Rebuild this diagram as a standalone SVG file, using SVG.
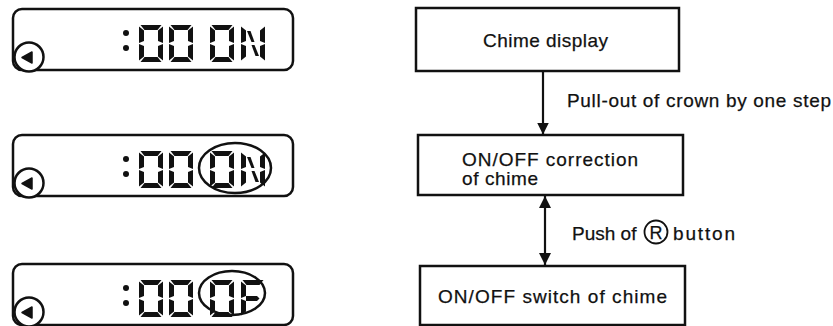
<svg xmlns="http://www.w3.org/2000/svg" width="833" height="326" viewBox="0 0 833 326">
<style>
.bx{fill:#fff;stroke:#111;stroke-width:2.5}
.lcd{fill:none;stroke:#111;stroke-width:2.5}
.seg{fill:#111}
.t{font-family:"Liberation Sans",Arial,sans-serif;font-size:19px;fill:#111;stroke:#111;stroke-width:0.25}
.con{stroke:#111;stroke-width:2.2;fill:none}
</style>
<defs>
<g id="zero" class="seg">
<polygon points="1.5,0 22.5,0 18.5,5 5.5,5"/>
<polygon points="5.5,32 18.5,32 22.5,37 1.5,37"/>
<polygon points="0,1.5 5,5.5 5,16 0,18"/>
<polygon points="0,19 5,21 5,31.5 0,35.5"/>
<polygon points="24,1.5 19,5.5 19,16 24,18"/>
<polygon points="24,19 19,21 19,31.5 24,35.5"/>
</g>
<g id="letN" class="seg">
<polygon points="0,1.5 5,5.5 5,16 0,18"/>
<polygon points="0,19 5,21 5,31.5 0,35.5"/>
<polygon points="24,1.5 19,5.5 19,16 24,18"/>
<polygon points="24,19 19,21 19,31.5 24,35.5"/>
<polygon points="6,6 9.5,6 13.5,17 10.5,17"/>
<polygon points="10.5,20 13.5,20 18,31 14.5,31"/>
</g>
<g id="letF" class="seg">
<polygon points="1.5,0 22.5,0 18.5,5 5.5,5"/>
<polygon points="0,1.5 5,5.5 5,16 0,18"/>
<polygon points="0,19 5,21 5,31.5 0,35.5"/>
<polygon points="5,16 16,16 18.5,18.5 16,21 5,21"/>
</g>
<g id="lcdframe">
<rect class="lcd" x="13" y="9" width="280" height="61" rx="9"/>
<circle cx="29" cy="57" r="14.5" fill="#fff" stroke="#111" stroke-width="2.5"/>
<polygon points="22,57.5 32,52 32,63" fill="#111" stroke="#111" stroke-width="1.5" stroke-linejoin="round"/>
<circle cx="126" cy="33" r="3" fill="#111"/>
<circle cx="126" cy="48" r="3" fill="#111"/>
<use href="#zero" x="139" y="25"/>
<use href="#zero" x="169" y="25"/>
<use href="#zero" x="210" y="25"/>
</g>
<marker id="ah" viewBox="0 0 12 20" refX="12" refY="10" markerWidth="12" markerHeight="20" markerUnits="userSpaceOnUse" orient="auto-start-reverse">
<path d="M0,4 L12,10 L0,16 Z" fill="#111"/>
</marker>
</defs>
<rect width="833" height="326" fill="#fff"/>

<g id="display1">
<use href="#lcdframe"/>
<use href="#letN" x="241" y="25"/>
</g>
<g id="display2" transform="translate(0,126)">
<use href="#lcdframe"/>
<use href="#letN" x="241" y="25"/>
<ellipse class="lcd" cx="235" cy="42" rx="36" ry="25"/>
</g>
<g id="display3" transform="translate(0,255)">
<use href="#lcdframe"/>
<use href="#letF" x="241" y="25"/>
<ellipse class="lcd" cx="232" cy="38" rx="33" ry="22"/>
</g>

<g id="node-chime-display">
<rect class="bx" x="416" y="8" width="263" height="63"/>
<text class="t" x="483" y="47" textLength="125">Chime display</text>
</g>
<g id="node-onoff-correction">
<rect class="bx" x="418" y="135" width="265" height="60"/>
<text class="t" x="462" y="166" textLength="176">ON/OFF correction</text>
<text class="t" x="462" y="185" textLength="76">of chime</text>
</g>
<g id="node-onoff-switch">
<rect class="bx" x="420" y="266" width="265" height="59"/>
<text class="t" x="438" y="303" textLength="229">ON/OFF switch of chime</text>
</g>

<g id="connectors">
<line class="con" x1="543" y1="71" x2="543" y2="134.5" marker-end="url(#ah)"/>
<text class="t" x="567" y="107" textLength="264">Pull-out of crown by one step</text>
<line class="con" x1="545" y1="196" x2="545" y2="265" marker-start="url(#ah)" marker-end="url(#ah)"/>
<text class="t" x="572" y="240">Push of</text>
<circle cx="656" cy="232" r="11.5" fill="none" stroke="#111" stroke-width="1.8"/>
<text class="t" x="656" y="239" text-anchor="middle" style="font-size:18px">R</text>
<text class="t" x="673" y="240" textLength="62">button</text>
</g>
</svg>
